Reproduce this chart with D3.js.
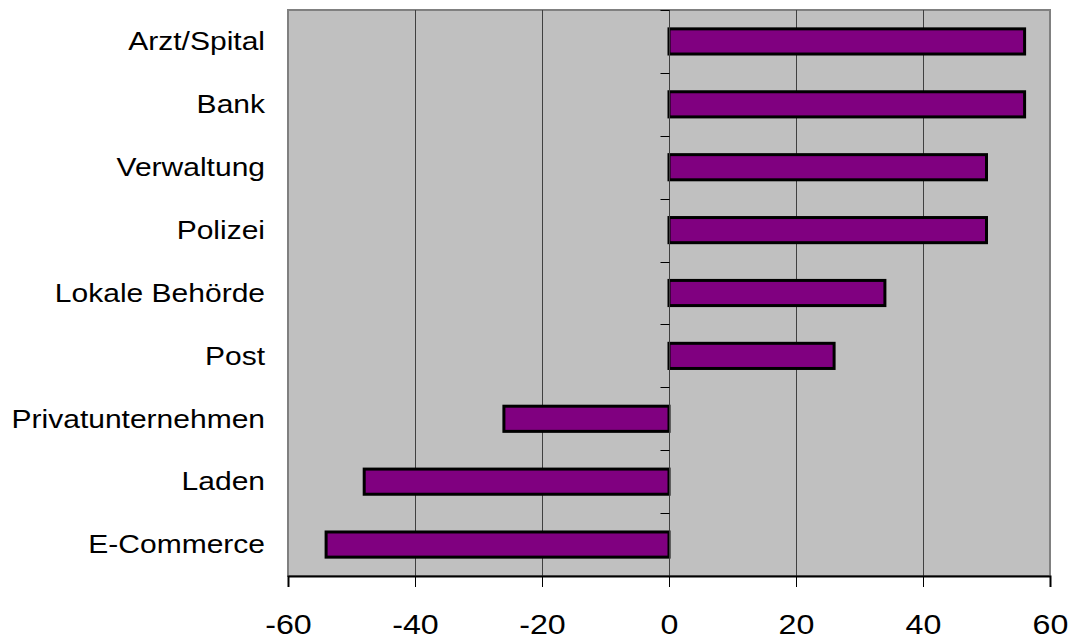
<!DOCTYPE html>
<meta charset="utf-8">
<style>
    body { margin: 0; background: #fff; }
    svg text { font-family: "Liberation Sans", Arial, sans-serif; fill: #000; }
</style>
<script src="https://d3js.org/d3.v7.min.js"></script>
<div id="chart"></div>
<script>
    // data
    var categories = ["Arzt/Spital", "Bank", "Verwaltung", "Polizei", "Lokale Behörde",
        "Post", "Privatunternehmen", "Laden", "E-Commerce"];
    var values = [56, 56, 50, 50, 34, 26, -26, -48, -54];
    var xTicks = [-60, -40, -20, 0, 20, 40, 60];

    var W = 1078, H = 639;
    var margin = {top: 10, right: 28, bottom: 63, left: 288},
        width = W - margin.left - margin.right,
        height = H - margin.top - margin.bottom;

    var svg = d3.select("#chart").append("svg")
        .attr("width", W)
        .attr("height", H)
        .append("g")
        .attr("transform", "translate(" + margin.left + "," + margin.top + ")");

    var x = d3.scaleLinear().domain([-60, 60]).range([0, width]);
    var y = d3.scaleBand().domain(categories).range([0, height]).paddingInner(0.6).paddingOuter(0.3);
    var yBand = d3.scaleBand().domain(categories).range([0, height]);

    // plot background
    svg.append("rect")
        .attr("x", 0).attr("y", 0)
        .attr("width", width).attr("height", height)
        .style("fill", "#c0c0c0")
        .style("stroke", "#808080")
        .style("stroke-width", 2);

    // vertical grid
    svg.append("g")
        .selectAll("line")
        .data(xTicks.filter(function(d) { return d !== 0 && Math.abs(d) !== 60; }))
        .enter()
        .append("line")
        .attr("x1", function(d) { return Math.round(x(d)) + 0.5; })
        .attr("x2", function(d) { return Math.round(x(d)) + 0.5; })
        .attr("y1", 0).attr("y2", height)
        .style("stroke", "#404040")
        .style("stroke-width", 1);

    // bars
    svg.append("g")
        .selectAll("rect")
        .data(categories)
        .enter()
        .append("rect")
        .attr("x", function(d, i) { return x(Math.min(0, values[i])); })
        .attr("y", function(d) { return y(d); })
        .attr("width", function(d, i) { return Math.abs(x(values[i]) - x(0)); })
        .attr("height", y.bandwidth())
        .style("fill", "#800080")
        .style("stroke", "#000")
        .style("stroke-width", 3);

    // zero axis with category ticks pointing left
    var zx = Math.round(x(0)) + 0.5;
    svg.append("line")
        .attr("x1", zx).attr("x2", zx)
        .attr("y1", 0).attr("y2", height)
        .style("stroke", "#404040")
        .style("stroke-width", 1);
    svg.append("g")
        .selectAll("line")
        .data(categories.slice(1))
        .enter()
        .append("line")
        .attr("x1", zx - 9).attr("x2", zx)
        .attr("y1", function(d) { return Math.round(yBand(d)) + 0.5; })
        .attr("y2", function(d) { return Math.round(yBand(d)) + 0.5; })
        .style("stroke", "#000")
        .style("stroke-width", 1);
    svg.append("line")
        .attr("x1", zx - 9).attr("x2", zx)
        .attr("y1", 0.5).attr("y2", 0.5)
        .style("stroke", "#000");

    // category labels (glyphs in the original are a bit wide, so stretch them)
    svg.append("g")
        .selectAll("text")
        .data(categories)
        .enter()
        .append("text")
        .attr("transform", function(d) {
            return "translate(-23," + (yBand(d) + yBand.bandwidth() / 2) + ") scale(1.2,1)";
        })
        .attr("dy", "0.35em")
        .attr("text-anchor", "end")
        .style("font-size", "25px")
        .text(function(d) { return d; });

    // x axis
    var xAxis = svg.append("g")
        .attr("transform", "translate(0," + height + ")")
        .call(d3.axisBottom(x).tickValues(xTicks).tickSize(11).tickPadding(27).tickFormat(d3.format("d")));
    xAxis.select(".domain").style("stroke", "#000").style("stroke-width", 2);
    xAxis.selectAll(".tick line").style("stroke", "#000");
    xAxis.selectAll(".tick text")
        .style("font-size", "28px")
        .style("font-family", "'Liberation Sans', Arial, sans-serif")
        .attr("transform", "scale(1.15,1)")
        .text(function(d) { return d < 0 ? "-" + Math.abs(d) : d; });
</script>
